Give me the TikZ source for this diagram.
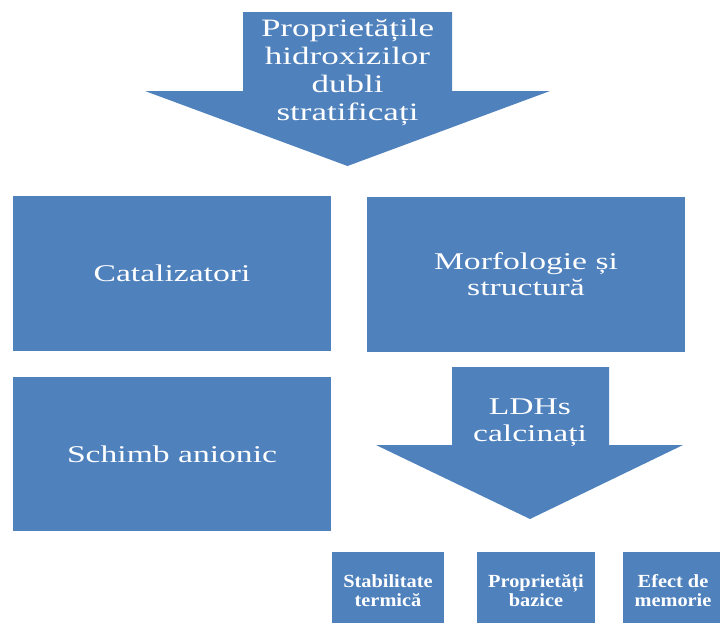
\documentclass[tikz,border=0pt]{standalone}
\usepackage{fontspec}
\newfontfamily\widefont[FakeStretch=1.4]{Liberation Serif}
\newfontfamily\smallfont[FakeStretch=1.1]{Liberation Serif}
\definecolor{ldhblue}{HTML}{4F81BD}
\begin{document}
\begin{tikzpicture}[x=1pt,y=-1pt,
  bigbox/.style={fill=ldhblue, draw=none, inner sep=0pt, text=white, align=center,
    font=\widefont\fontsize{24}{26}\selectfont},
  smallbox/.style={fill=ldhblue, draw=none, inner sep=0pt, text=white, align=center,
    minimum height=77pt, font=\smallfont\bfseries\fontsize{18.5}{19.5}\selectfont},
  arrowshape/.style={fill=ldhblue, draw=none},
  arrowtext/.style={text=white, align=center, inner sep=0pt,
    font=\widefont\fontsize{25}{28}\selectfont}]
\useasboundingbox (0,0) rectangle (720,622);
\clip (0,0) rectangle (720,622);
% top arrow
\fill[arrowshape] (243,12) -- (452,12) -- (452,91) -- (550,91) -- (347.5,166)
  -- (145,91) -- (243,91) -- cycle;
\node[arrowtext] (prop) at (347.5,72) {Proprietățile\\hidroxizilor\\dubli\\stratificați};
% boxes
\node[bigbox, minimum width=318pt, minimum height=155pt] (cat) at (172,273.5) {Catalizatori};
\node[bigbox, minimum width=318pt, minimum height=155pt] (morf) at (526,274.5) {Morfologie și\\structură};
\node[bigbox, minimum width=318pt, minimum height=154pt] (schimb) at (172,454) {Schimb anionic};
% second arrow
\fill[arrowshape] (452,367) -- (609,367) -- (609,445) -- (683,445) -- (530,519)
  -- (376,445) -- (452,445) -- cycle;
\node[arrowtext, font=\widefont\fontsize{24}{27}\selectfont] (ldh) at (530,423) {LDHs\\calcinați};
% small boxes
\node[smallbox, minimum width=112pt] (stab) at (388,590.5) {Stabilitate\\termică};
\node[smallbox, minimum width=118pt] (baz) at (536,590.5) {Proprietăți\\bazice};
\node[smallbox, minimum width=100pt] (mem) at (673,590.5) {Efect de\\memorie};
\end{tikzpicture}
\end{document}
